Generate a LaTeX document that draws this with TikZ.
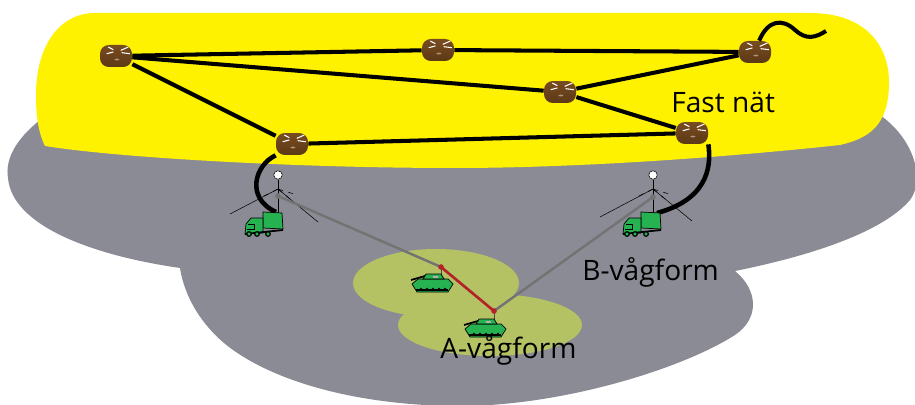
\documentclass[tikz,border=0pt]{standalone}
\usepackage{fontspec}
\setmainfont{Open Sans}
\usetikzlibrary{shapes.geometric}

\definecolor{fastyellow}{RGB}{255,242,0}
\definecolor{fieldgrey}{RGB}{139,139,150}
\definecolor{cellgreen}{RGB}{181,194,100}
\definecolor{routerbrown}{RGB}{92,56,22}
\definecolor{routertop}{RGB}{120,76,32}
\definecolor{linkred}{RGB}{178,34,40}
\definecolor{vehgreen}{RGB}{38,178,80}

\tikzset{
  router/.style={rounded corners=5pt,inner sep=0pt,
    minimum width=0.64cm,minimum height=0.44cm,
    top color=routertop,bottom color=routerbrown,
    path picture={
      \begin{scope}[shift={(path picture bounding box.center)},
          white,line width=0.6pt]
        \draw (-4.4pt,5.1pt) -- (-1.5pt,3.6pt);
        \draw (-5.3pt,1.3pt) -- (-1.5pt,2.3pt);
        \draw (7pt,5.1pt) -- (2.7pt,3.2pt);
        \draw (7.9pt,1.3pt) -- (3.2pt,1.9pt);
        \fill[routertop!60!white] (0.5pt,-2pt) ellipse (1.4pt and 0.5pt);
      \end{scope}}},
  trunk/.style={line width=2.3pt},
  cable/.style={line width=2.6pt},
  radio/.style={line width=1.4pt,draw=black!55},
  label/.style={anchor=base west,inner sep=0pt,font=\fontsize{16}{18}\selectfont},
  mastdot/.style={circle,draw,fill=white,inner sep=0pt,minimum size=0.17cm,
    line width=0.3pt},
  truck/.pic={
    \draw[line width=0.4pt,fill=vehgreen] (0,0) -- (0,-16) -- (19,-15) -- (20,1) -- cycle;
    \draw[line width=0.4pt,fill=vehgreen] (0,-10) -- (-12,-10) -- (-17,-4)
      -- (-18,6) -- (0,5) -- cycle;
    \draw[line width=0.3pt] (-15,-4) -- (-9,-4) -- (-9,1) -- (-16,1);
    \draw[line width=1pt] (-18,6) -- (20,2);
    \foreach \w in {-14,-6,5}
      \filldraw[fill=vehgreen,line width=0.7pt] (\w,6) circle[radius=1.3pt];
  },
  tank/.pic={
    \draw[line width=0.4pt,fill=vehgreen] (-20,0) -- (-14,-5) -- (16,-5)
      -- (21,0) -- (16,8) -- (-15,8) -- cycle;
    \draw[line width=1.2pt] (-16,6) -- (16,6);
    \foreach \w in {-11,-5,1,7,13}
      \fill[black] (\w,5) circle[radius=0.8pt];
    \draw[line width=0.4pt,fill=vehgreen] (-9,-5) -- (-6,-10) -- (9,-10) -- (12,-5) -- cycle;
    \fill[black!30] (1,-8) rectangle (6,-6);
    \draw[line width=1pt] (-7,-8) -- (-21,-4);
  }
}

\begin{document}
\begin{tikzpicture}[x={(0.02cm,0)},y={(0,-0.02cm)}]
  \useasboundingbox (0,0) rectangle (915,405);
  \clip (0,0) rectangle (915,405);

  % ground and fixed network areas
  \fill[fieldgrey] (40,120) .. controls (15,140) and (5,160) .. (8,178)
    .. controls (12,225) and (90,255) .. (180,268)
    .. controls (185,300) and (205,330) .. (233,350)
    .. controls (290,390) and (380,406) .. (460,406)
    .. controls (560,406) and (680,370) .. (735,335)
    .. controls (760,318) and (758,290) .. (735,271)
    .. controls (800,258) and (880,235) .. (910,200)
    .. controls (925,180) and (915,140) .. (880,115) -- cycle;
  \fill[fastyellow] (95,13) -- (810,13) .. controls (865,13) and (890,45) .. (889,85)
    .. controls (888,125) and (870,138) .. (840,145)
    .. controls (700,160) and (560,168) .. (455,168)
    .. controls (300,168) and (120,158) .. (45,146)
    .. controls (37,130) and (36,110) .. (36,95)
    .. controls (36,45) and (60,13) .. (95,13) -- cycle;
  \fill[cellgreen] (436,283) ellipse [x radius=1.66cm,y radius=0.68cm];
  \fill[cellgreen] (490,325) ellipse [x radius=1.84cm,y radius=0.62cm];

  % routers
  \node[router] (r1) at (116,56) {};
  \node[router] (r2) at (438,50) {};
  \node[router] (r3) at (755,52) {};
  \node[router] (r4) at (560,92) {};
  \node[router] (r5) at (692,133) {};
  \node[router] (r6) at (292,144) {};
  \coordinate (tail) at (826,31);

  \draw[trunk] (r1) -- (r2);
  \draw[trunk] (r2) -- (r3);
  \draw[trunk] (r1) -- (r4);
  \draw[trunk] (r4) -- (r3);
  \draw[trunk] (r4) -- (r5);
  \draw[trunk] (r1) -- (r6);
  \draw[trunk] (r6) -- (r5);
  \draw[trunk] (r3.70) .. controls (768,20) and (782,18) .. (795,30)
    .. controls (806,40) and (815,38) .. (tail);

  \node[label] (fast) at (671,113) {Fast nät};

  % radio sites on trucks
  \node[mastdot] (antA) at (278,175) {};
  \node[mastdot] (antB) at (653,175) {};
  \coordinate (hubA) at (278,189);
  \coordinate (hubB) at (653,189);
  \coordinate (feedA) at (276,212);
  \coordinate (feedB) at (657,213);

  \draw[line width=0.3pt] (antA) -- (278,214);
  \draw[line width=0.3pt] (hubA) -- (230,214) (hubA) -- (318,222);
  \draw[line width=0.3pt,dashed] (hubA) -- (262,197) (hubA) -- (294,194)
    (hubA) -- (290,199);
  \draw[line width=0.3pt] (antB) -- (653,214);
  \draw[line width=0.3pt] (hubB) -- (600,217) (hubB) -- (692,221);
  \draw[line width=0.3pt,dashed] (hubB) -- (637,197) (hubB) -- (669,194)
    (hubB) -- (665,199);

  \draw[cable] (r6.south west) .. controls (255,165) and (245,198) .. (feedA);
  \draw[cable] (r5.south east) .. controls (712,170) and (705,200) .. (feedB);

  \pic at (263,228) {truck};
  \pic at (641,228) {truck};

  % field units
  \coordinate (dotA) at (441,267);
  \coordinate (dotB) at (494,311);
  \draw[line width=0.4pt,black!70] (dotA) -- (441,276);
  \draw[line width=0.4pt,black!70] (dotB) -- (494,320);
  \pic at (432,284) {tank};
  \pic at (485,329) {tank};

  \draw[radio] (278,196) -- (dotA);
  \draw[radio,draw=linkred,line width=1.5pt] (dotA) -- (dotB);
  \draw[radio] (dotB) -- (653,197);
  \fill[black!55] (278,196) circle[radius=1.6pt] (653,197) circle[radius=1.6pt];
  \fill[linkred] (dotA) circle[radius=1.6pt] (dotB) circle[radius=1.6pt];

  \node[label] (bwave) at (582,280) {B-vågform};
  \node[label] (awave) at (440,358) {A-vågform};
\end{tikzpicture}
\end{document}
